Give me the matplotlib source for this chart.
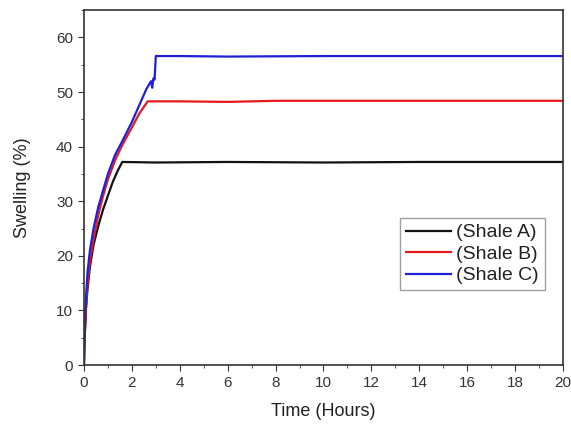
import matplotlib
matplotlib.use("Agg")
import matplotlib.pyplot as plt
from matplotlib.ticker import MultipleLocator

plt.rcParams["font.family"] = ["Liberation Sans", "DejaVu Sans"]

# swelling curves (time in hours, swelling in %)
time_a = [0, 0.03, 0.08, 0.15, 0.25, 0.4, 0.6, 0.8, 1.0, 1.2, 1.4, 1.6, 3, 6, 10, 14, 20]
swell_a = [0, 5, 10, 14, 18, 22, 25.5, 28.5, 31, 33.5, 35.5, 37.2, 37.1, 37.2, 37.1, 37.2, 37.2]

time_b = [0, 0.03, 0.08, 0.15, 0.25, 0.4, 0.6, 0.8, 1.0, 1.3, 1.6, 2.0, 2.3, 2.66, 4, 6, 8, 12, 16, 20]
swell_b = [0, 5, 10, 15, 19, 23, 27.5, 31, 34, 37.5, 40.3, 43.5, 46, 48.3, 48.3, 48.2, 48.4, 48.4, 48.4, 48.4]

time_c = [0, 0.03, 0.08, 0.15, 0.25, 0.4, 0.6, 0.8, 1.0, 1.3, 1.6, 2.0, 2.3, 2.6, 2.8, 2.85, 2.9, 2.95, 3.0, 4, 6, 10, 20]
swell_c = [0, 6, 12, 17, 21, 25, 29, 32, 35, 38.5, 41, 44.5, 47.5, 50.5, 52, 50.8, 52.5, 52.3, 56.6, 56.6, 56.5, 56.6, 56.6]

labels = ["(Shale A)", "(Shale B)", "(Shale C)"]
colors = ["#111111", "#e8191c", "#1f1fd6"]

fig = plt.figure(figsize=(5.71, 4.24), dpi=100)
ax = fig.add_axes([0.147, 0.139, 0.839, 0.837])

for t, s, lab, c in zip([time_a, time_b, time_c], [swell_a, swell_b, swell_c], labels, colors):
    ax.plot(t, s, color=c, lw=1.6, label=lab)

ax.set_xlim(0, 20)
ax.set_ylim(0, 65)
ax.xaxis.set_major_locator(MultipleLocator(2))
ax.xaxis.set_minor_locator(MultipleLocator(1))
ax.yaxis.set_major_locator(MultipleLocator(10))
ax.yaxis.set_minor_locator(MultipleLocator(5))
ax.tick_params(which="both", direction="out", color="#333333", labelsize=11,
               labelcolor="#333333", pad=3.6)
ax.tick_params(which="major", length=4.3)
ax.tick_params(which="minor", length=2.5)
for sp in ax.spines.values():
    sp.set_color("#333333")
    sp.set_linewidth(1.2)

ax.set_xlabel("Time (Hours)", fontsize=13, color="#222222", labelpad=9)
ax.set_ylabel("Swelling (%)", fontsize=13, color="#222222", labelpad=18)

leg = ax.legend(loc="lower right", bbox_to_anchor=(0.962, 0.211), fontsize=14,
                fancybox=False, edgecolor="#888888", handlelength=2.3,
                handletextpad=0.3, borderpad=0.3, labelspacing=0.2, borderaxespad=0)
leg.get_frame().set_linewidth(1.0)
for txt in leg.get_texts():
    txt.set_color("#222222")

fig.savefig("out.png", dpi=100)
